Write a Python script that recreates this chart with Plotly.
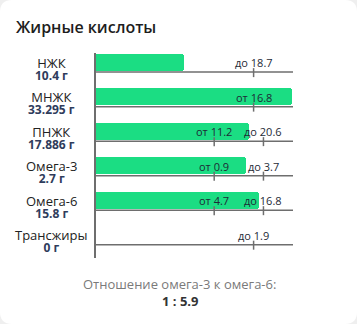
import plotly.graph_objects as go

# ---- data ----
categories = ["НЖК", "МНЖК", "ПНЖК", "Омега-3", "Омега-6", "Трансжиры"]
values = [10.4, 33.295, 17.886, 2.7, 15.8, 0]
norm_min = [None, 16.8, 11.2, 0.9, 4.7, None]
norm_max = [18.7, None, 20.6, 3.7, 16.8, 1.9]
title_text = "Жирные кислоты"
ratio_label = "Отношение омега-3 к омега-6:"
omega3_value = values[3]
omega6_value = values[4]

W, H = 357, 324
ML, MR, MT, MB = 96, 64, 53, 66
PW, PH = W - ML - MR, H - MT - MB
Y0, Y1 = -0.27, 5.67
GREEN = "#1bdd83"
LINE = "#6e6e6e"
FONT = "Open Sans"


def scale(v, lo, hi):
    """map a value onto the row's normalised track (0..1)"""
    if lo is not None and hi is not None:
        if v <= lo:
            f = v / lo * 0.6
        elif v <= hi:
            f = 0.6 + (v - lo) / (hi - lo) * 0.25
        else:
            f = 0.85 + (v - hi) / hi * 0.15
    elif hi is not None:
        f = v / hi * 0.8
    else:
        f = v / lo * 0.8 if v <= lo else 0.8 + (v - lo) / lo * 0.2
    return min(f, 1.0)


def px_x(p):
    return (p - ML) / PW


def px_y(p):
    return (H - MB - p) / PH


def unit_y(px):
    return px * (Y1 - Y0) / PH


rows = list(range(len(categories)))
fracs = [scale(v, lo, hi) for v, lo, hi in zip(values, norm_min, norm_max)]

fig = go.Figure()
fig.add_trace(go.Bar(
    x=fracs, y=rows, orientation="h", width=0.49,
    marker=dict(color=GREEN, line=dict(width=0), cornerradius=3),
    hoverinfo="skip", showlegend=False,
))

shapes = []
# card background
r = 12
x0, x1 = px_x(0), px_x(W)
yt, yb = px_y(0), px_y(H)
rx, ry = r / PW, r / PH
path = (f"M {x0+rx},{yt} L {x1-rx},{yt} Q {x1},{yt} {x1},{yt-ry} "
        f"L {x1},{yb+ry} Q {x1},{yb} {x1-rx},{yb} L {x0+rx},{yb} "
        f"Q {x0},{yb} {x0},{yb+ry} L {x0},{yt-ry} Q {x0},{yt} {x0+rx},{yt} Z")
shapes.append(dict(type="path", xref="paper", yref="paper", path=path,
                   fillcolor="white", line=dict(width=0), layer="below"))

annotations = []
base_off = unit_y(9.8)
for i, (lo, hi) in enumerate(zip(norm_min, norm_max)):
    yb_ = i + base_off
    shapes.append(dict(type="line", xref="x", yref="y", x0=0, x1=1, y0=yb_, y1=yb_,
                       line=dict(color=LINE, width=1.5), layer="below"))
    for val, word in ((lo, "от"), (hi, "до")):
        if val is None:
            continue
        xp = scale(val, lo, hi)
        shapes.append(dict(type="line", xref="x", yref="y", x0=xp, x1=xp,
                           y0=yb_ - unit_y(4), y1=yb_ + unit_y(5),
                           line=dict(color=LINE, width=1.5), layer="above"))
        annotations.append(dict(x=xp, y=i + unit_y(0.3), xref="x", yref="y",
                                text=f"{word} {val:g}", showarrow=False,
                                xanchor="center", yanchor="middle",
                                font=dict(family=FONT, size=11, color="#1e2a36")))

# left labels (name + amount in one two-line label)
for i, (name, v) in enumerate(zip(categories, values)):
    txt = (f"<span style='font-size:13px;color:#222222'>{name}</span><br>"
           f"<span style='font-size:12px;color:#2f3c5c'><b>{v:g} г</b></span>")
    annotations.append(dict(x=px_x(51), y=i + unit_y(6.5), xref="paper", yref="y",
                            text=txt, showarrow=False, xanchor="center", yanchor="middle",
                            align="center",
                            font=dict(family=FONT, size=9.5, color="#222222")))

# title
annotations.append(dict(x=px_x(14), y=px_y(27), xref="paper", yref="paper",
                        text=title_text, showarrow=False, xanchor="left", yanchor="middle",
                        font=dict(family=FONT, size=16, color="#1d1d1d", weight=600)))
# footer
ratio = omega6_value / omega3_value
annotations.append(dict(x=px_x(179), y=px_y(283.5), xref="paper", yref="paper",
                        text=ratio_label, showarrow=False, xanchor="center", yanchor="middle",
                        font=dict(family=FONT, size=13, color="#7a7a7a")))
annotations.append(dict(x=px_x(180), y=px_y(301), xref="paper", yref="paper",
                        text=f"<b>1 : {ratio:.1f}</b>", showarrow=False,
                        xanchor="center", yanchor="middle",
                        font=dict(family=FONT, size=13, color="#333333")))

fig.update_layout(
    width=W, height=H,
    margin=dict(l=ML, r=MR, t=MT, b=MB, pad=0),
    paper_bgcolor="#efefef", plot_bgcolor="white",
    shapes=shapes, annotations=annotations,
    xaxis=dict(range=[0, 1], visible=False, fixedrange=True),
    yaxis=dict(range=[Y1, Y0], showline=True, linecolor=LINE, linewidth=1.5,
               showticklabels=False, ticks="", showgrid=False, zeroline=False,
               layer="below traces", fixedrange=True),
    bargap=0, showlegend=False,
)

fig.write_html("out.html", config={"displayModeBar": False})
